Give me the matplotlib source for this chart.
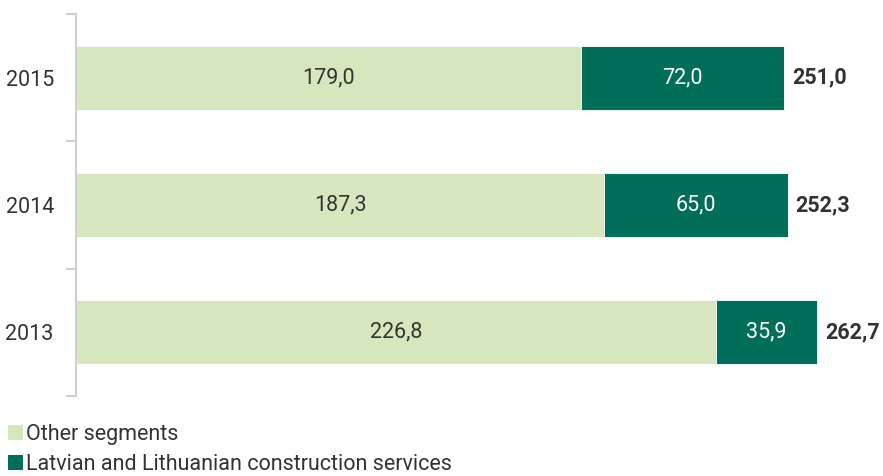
import matplotlib.pyplot as plt
import numpy as np
from matplotlib.patches import Patch

plt.rcParams['font.family'] = ['Roboto', 'DejaVu Sans']

years = ['2013', '2014', '2015']
other_segments = [226.8, 187.3, 179.0]
construction = [35.9, 65.0, 72.0]
series_names = ['Other segments', 'Latvian and Lithuanian construction services']

light_green = '#d7e7bd'
dark_green = '#006e58'
text_col = '#333333'
fs = 15.5

fig = plt.figure(figsize=(8.83, 4.76), dpi=100)
ax = fig.add_axes([76 / 883, 80 / 476, 804 / 883, 382 / 476])

y = np.arange(len(years))
other = np.array(other_segments)
constr = np.array(construction)
totals = other + constr

ax.barh(y, other, height=0.5, color=light_green, edgecolor='white', linewidth=0.6)
ax.barh(y, constr, left=other, height=0.5, color=dark_green, edgecolor='white', linewidth=0.6)

def fmt(v):
    return f"{v:.1f}".replace('.', ',')

for i in range(len(years)):
    ax.text(other[i] / 2, y[i], fmt(other[i]), ha='center', va='center',
            fontsize=fs, color=text_col)
    ax.text(other[i] + constr[i] / 2, y[i], fmt(constr[i]), ha='center', va='center',
            fontsize=fs, color='white')
    ax.text(totals[i] + 2.8, y[i], fmt(totals[i]), ha='left', va='center',
            fontsize=fs, color=text_col, fontweight='bold')

ax.set_xlim(0, 285)
ax.set_ylim(-0.5, 2.5)

# ticks between the categories, labels in the middle
ax.set_yticks([-0.5, 0.5, 1.5, 2.5])
ax.set_yticklabels([])
ax.set_yticks(y, minor=True)
ax.set_yticklabels(years, minor=True, fontsize=fs, color=text_col)
ax.tick_params(axis='y', which='major', length=7, width=1.5, color='#d0d0d0', direction='out')
ax.tick_params(axis='y', which='minor', length=0, pad=16)
ax.set_xticks([])

for s in ['top', 'right', 'bottom']:
    ax.spines[s].set_visible(False)
ax.spines['left'].set_color('#d0d0d0')
ax.spines['left'].set_linewidth(1.5)

handles = [Patch(facecolor=light_green, edgecolor='none'),
           Patch(facecolor=dark_green, edgecolor='none')]
fig.legend(handles, series_names, loc='upper left', bbox_to_anchor=(0.009, 0.11),
           frameon=False, fontsize=fs, handlelength=0.7, handleheight=0.7,
           handletextpad=0.12, labelspacing=0.45, borderaxespad=0, borderpad=0,
           labelcolor=text_col)

fig.savefig('out.png', dpi=100)
